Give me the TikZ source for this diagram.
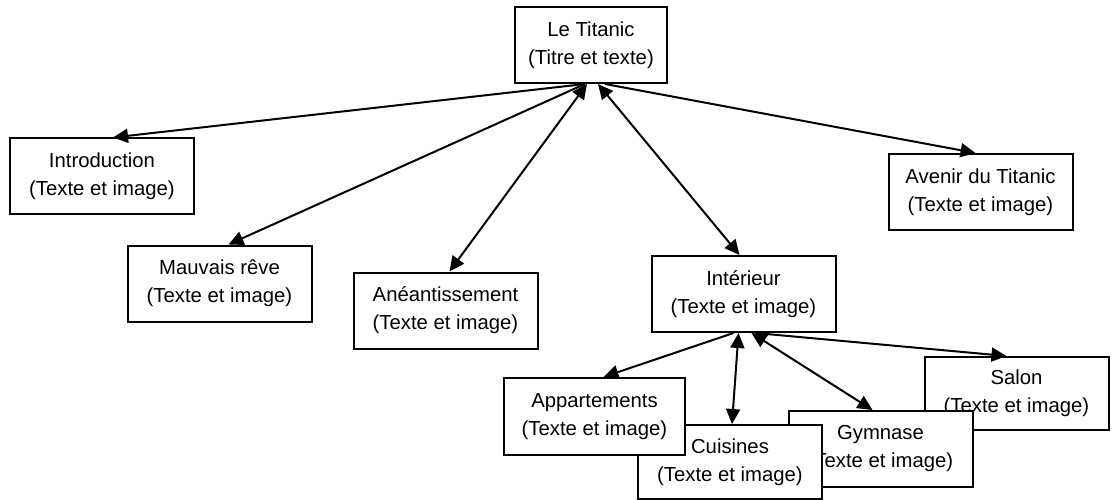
\documentclass[tikz,border=0pt]{standalone}
\usepackage{fontspec}
\setmainfont{Liberation Sans}
\usetikzlibrary{arrows.meta}
\tikzset{
  every picture/.style={line width=2pt},
  page/.style={draw, fill=white, align=center, inner sep=2pt, minimum width=184pt, minimum height=76pt, font=\fontsize{20.3}{28}\selectfont},
  link/.style={-{Triangle[length=15pt, width=14pt]}},
  twoway/.style={{Triangle[length=15pt, width=14pt]}-{Triangle[length=15pt, width=14pt]}},
}

\begin{document}
\begin{tikzpicture}[x=1pt, y=-1pt]
  \useasboundingbox (0,0) rectangle (1112,500);
  % top level
  \node[page, minimum width=152pt] (titanic) at (591,45) {Le Titanic\\(Titre et texte)};
  \node[page] (intro) at (102,176.5) {Introduction\\(Texte et image)};
  \node[page] (reve) at (219.5,283.5) {Mauvais rêve\\(Texte et image)};
  \node[page] (aneant) at (445.5,310.5) {Anéantissement\\(Texte et image)};
  \node[page] (interieur) at (743.5,294) {Intérieur\\(Texte et image)};
  \node[page] (avenir) at (980.5,192) {Avenir du Titanic\\(Texte et image)};
  % rooms, drawn back to front
  \node[page, minimum height=73pt] (salon) at (1016.5,393.5) {Salon\\(Texte et image)};
  \node[page] (gym) at (880.5,449) {Gymnase\\(Texte et image)};
  \node[page, minimum height=74pt] (cuisines) at (730,462) {Cuisines\\(Texte et image)};
  \node[page, minimum width=181pt, minimum height=77pt] (appart) at (594.5,416.5) {Appartements\\(Texte et image)};
  \draw[link] ([xshift=-6pt]titanic.south) -- ([xshift=11pt]intro.north);
  \draw[link] ([xshift=-6pt]titanic.south) -- ([xshift=9pt]reve.north);
  \draw[twoway] ([xshift=-4pt]titanic.south) -- ([xshift=4pt]aneant.north);
  \draw[twoway] ([xshift=7pt]titanic.south) -- ([xshift=-4pt]interieur.north);
  \draw[link] ([xshift=14pt]titanic.south) -- ([xshift=-5pt]avenir.north);
  \draw[link] ([xshift=-10pt]interieur.south) -- ([xshift=9pt]appart.north);
  \draw[twoway] ([xshift=-5pt]interieur.south) -- ([xshift=2pt]cuisines.north);
  \draw[twoway] ([xshift=8pt]interieur.south) -- ([xshift=-8pt]gym.north);
  \draw[link] ([xshift=12pt]interieur.south) -- ([xshift=-10pt]salon.north);
\end{tikzpicture}
\end{document}
